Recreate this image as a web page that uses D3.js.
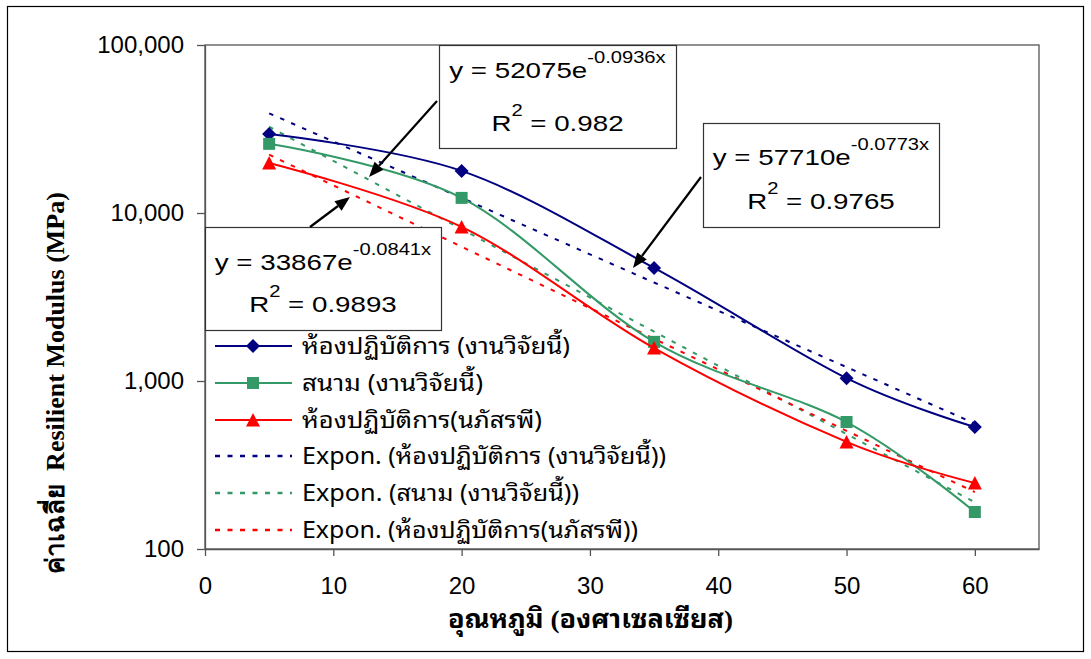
<!DOCTYPE html>
<html><head><meta charset="utf-8">
<script src="https://cdn.jsdelivr.net/npm/d3@7"></script>
<style>
html,body{margin:0;padding:0;background:#fff;}
svg{display:block;}
text{white-space:pre;}
</style></head>
<body><svg id="c" width="1091" height="659"></svg>
<script>
// ---- data ----
const temps = [5, 20, 35, 50, 60];
const labThisWork = [29500, 17800, 4710, 1040, 532];
const fieldThisWork = [25800, 12300, 1710, 570, 166];
const labNapatsaporn = [19850, 8260, 1570, 434, 247];
const seriesNames = ["ห้องปฏิบัติการ (งานวิจัยนี้)", "สนาม (งานวิจัยนี้)", "ห้องปฏิบัติการ(นภัสรพี)"];
const trendNames = ["Expon. (ห้องปฏิบัติการ (งานวิจัยนี้))", "Expon. (สนาม (งานวิจัยนี้))", "Expon. (ห้องปฏิบัติการ(นภัสรพี))"];
const trendA = [57710, 52075, 33867];
const trendB = [-0.0773, -0.0936, -0.0841];
const trendR2 = ["0.9765", "0.982", "0.9893"];
const xTicks = [0, 10, 20, 30, 40, 50, 60];
const yTicks = [100, 1000, 10000, 100000];
const xTitle = "อุณหภูมิ (องศาเซลเซียส)";
const yTitle = "ค่าเฉลี่ย  Resilient Modulus (MPa)";

// ---- layout ----
const colors = ["#000080", "#339966", "#FF0000"];
const svg = d3.select("#c");
const x = d3.scaleLinear().domain([0, 65]).range([205, 1039]);
const y = d3.scaleLog().domain([100, 100000]).range([549, 45]);
const thai = "Tahoma, 'Noto Sans Thai Looped', Loma, Garuda, 'Noto Sans Thai', 'Noto Sans', sans-serif";

// outer border
svg.append("rect").attr("x", 7.5).attr("y", 6.5).attr("width", 1076).attr("height", 645)
  .attr("fill", "none").attr("stroke", "#000").attr("stroke-width", 1.2);

// plot border
svg.append("rect").attr("x", x(0)).attr("y", y(100000)).attr("width", x(65) - x(0)).attr("height", y(100) - y(100000))
  .attr("fill", "none").attr("stroke", "#555").attr("stroke-width", 1.3);

// axes
const gx = svg.append("g").attr("transform", `translate(0,${y(100)})`)
  .call(d3.axisBottom(x).tickValues(xTicks).tickSize(7).tickPadding(21).tickSizeOuter(0));
const gy = svg.append("g").attr("transform", `translate(${x(0)},0)`)
  .call(d3.axisLeft(y).tickValues(yTicks).tickFormat(d3.format(",")).tickSize(8).tickPadding(13).tickSizeOuter(0));
[gx, gy].forEach(g => {
  g.select(".domain").attr("stroke", "#555").attr("stroke-width", 1.3);
  g.selectAll(".tick line").attr("stroke", "#555").attr("stroke-width", 1.3);
  g.selectAll("text").attr("font-family", "'Liberation Sans', Arial, sans-serif").attr("font-size", 24).attr("fill", "#000");
});

// trendlines
const trendX = d3.range(5, 60.001, 0.5);
trendA.forEach((a, i) => {
  const pts = trendX.map(t => [t, a * Math.exp(trendB[i] * t)]);
  svg.append("path").datum(pts)
    .attr("d", d3.line().x(d => x(d[0])).y(d => y(d[1])))
    .attr("fill", "none").attr("stroke", colors[i]).attr("stroke-width", 2)
    .attr("stroke-dasharray", "4.5,7.5");
});

// markers (diamond, square, triangle)
function markerPath(i) {
  if (i === 0) return "M0,-7L7,0L0,7L-7,0Z";
  if (i === 1) return "M-6,-6H6V6H-6Z";
  return "M0,-7L7,6.5L-7,6.5Z";
}
function drawMarker(g, i, cx, cy) {
  g.append("path").attr("d", markerPath(i))
    .attr("transform", `translate(${cx},${cy})`)
    .attr("fill", colors[i]).attr("stroke", "none");
}
const series = [labThisWork, fieldThisWork, labNapatsaporn];
series.forEach((vals, i) => {
  const pts = temps.map((t, k) => [t, vals[k]]);
  svg.append("path").datum(pts)
    .attr("d", d3.line().x(d => x(d[0])).y(d => y(d[1])).curve(d3.curveCardinal.tension(0)))
    .attr("fill", "none").attr("stroke", colors[i]).attr("stroke-width", 2);
  const g = svg.append("g");
  pts.forEach(p => drawMarker(g, i, x(p[0]), y(p[1])));
});

// legend
const legRows = [346, 383, 420, 456, 493, 530];
const legWidths = [268, 181, 240, 364, 277, 336];
const leg = svg.append("g");
const legNames = seriesNames.concat(trendNames);
legNames.forEach((name, k) => {
  const i = k % 3;
  const ry = legRows[k];
  const ln = leg.append("line").attr("x1", 215).attr("x2", 292).attr("y1", ry).attr("y2", ry)
    .attr("stroke", colors[i]).attr("stroke-width", 2);
  if (k < 3) drawMarker(leg, i, 253, ry);
  else ln.attr("stroke-dasharray", "5,7.5").attr("stroke-width", 2.4);
  leg.append("text").attr("x", 302).attr("y", ry).attr("dy", "0.35em")
    .attr("font-family", thai).attr("font-size", 23).attr("fill", "#000")
    .attr("textLength", legWidths[k]).attr("lengthAdjust", "spacingAndGlyphs").text(name);
});

// equation boxes
const boxes = [
  {i: 1, x0: 439, y0: 45, x1: 676, y1: 148, b1: 78, b2: 131},
  {i: 0, x0: 703, y0: 123, x1: 939, y1: 227, b1: 165, b2: 209},
  {i: 2, x0: 205, y0: 227, x1: 441, y1: 330, b1: 270, b2: 312}
];
const eqFont = "'Liberation Sans', Arial, sans-serif";
const sx = 1.26;
boxes.forEach(b => {
  svg.append("rect").attr("x", b.x0 + 0.5).attr("y", b.y0 + 0.5).attr("width", b.x1 - b.x0).attr("height", b.y1 - b.y0)
    .attr("fill", "#fff").attr("stroke", "#333").attr("stroke-width", 1.2);
  const cx = (b.x0 + b.x1) / 2;
  function line(main, sup, tail, base) {
    const inner = svg.append("g");
    const t1 = inner.append("text").attr("y", base).attr("font-family", eqFont).attr("font-size", 22).text(main);
    const w1 = t1.node().getComputedTextLength();
    const t2 = inner.append("text").attr("x", w1).attr("y", base - 15).attr("font-family", eqFont).attr("font-size", 16).text(sup);
    let w = w1 + t2.node().getComputedTextLength();
    if (tail) {
      const t3 = inner.append("text").attr("x", w).attr("y", base).attr("font-family", eqFont).attr("font-size", 22).text(tail);
      w += t3.node().getComputedTextLength();
    }
    inner.attr("transform", `translate(${cx - w * sx / 2},0) scale(${sx},1)`);
  }
  line(`y = ${trendA[b.i]}e`, `${trendB[b.i]}x`, null, b.b1);
  line("R", "2", ` = ${trendR2[b.i]}`, b.b2);
});

// arrows
const arrows = [
  [437, 101, 369, 177],
  [701, 177, 633, 268],
  [310, 227, 350, 197]
];
arrows.forEach(([x1, y1, x2, y2]) => {
  const ang = Math.atan2(y2 - y1, x2 - x1);
  const L = 15, W = 6;
  const bx = x2 - L * Math.cos(ang), by = y2 - L * Math.sin(ang);
  svg.append("line").attr("x1", x1).attr("y1", y1).attr("x2", bx).attr("y2", by)
    .attr("stroke", "#000").attr("stroke-width", 2.2);
  const px = -Math.sin(ang), py = Math.cos(ang);
  svg.append("path").attr("d", `M${x2},${y2}L${bx + W * px},${by + W * py}L${bx - W * px},${by - W * py}Z`)
    .attr("fill", "#000");
});

// axis titles
svg.append("text").attr("x", 448).attr("y", 628)
  .attr("font-family", "'Liberation Serif', " + thai).attr("font-weight", "bold").attr("font-size", 26)
  .attr("textLength", 285).attr("lengthAdjust", "spacingAndGlyphs").text(xTitle);
svg.append("text").attr("transform", "translate(64,383) rotate(-90)").attr("text-anchor", "middle")
  .attr("font-family", "'Liberation Serif', 'Times New Roman', serif").attr("font-weight", "bold").attr("font-size", 26).text(yTitle);
</script></body></html>
